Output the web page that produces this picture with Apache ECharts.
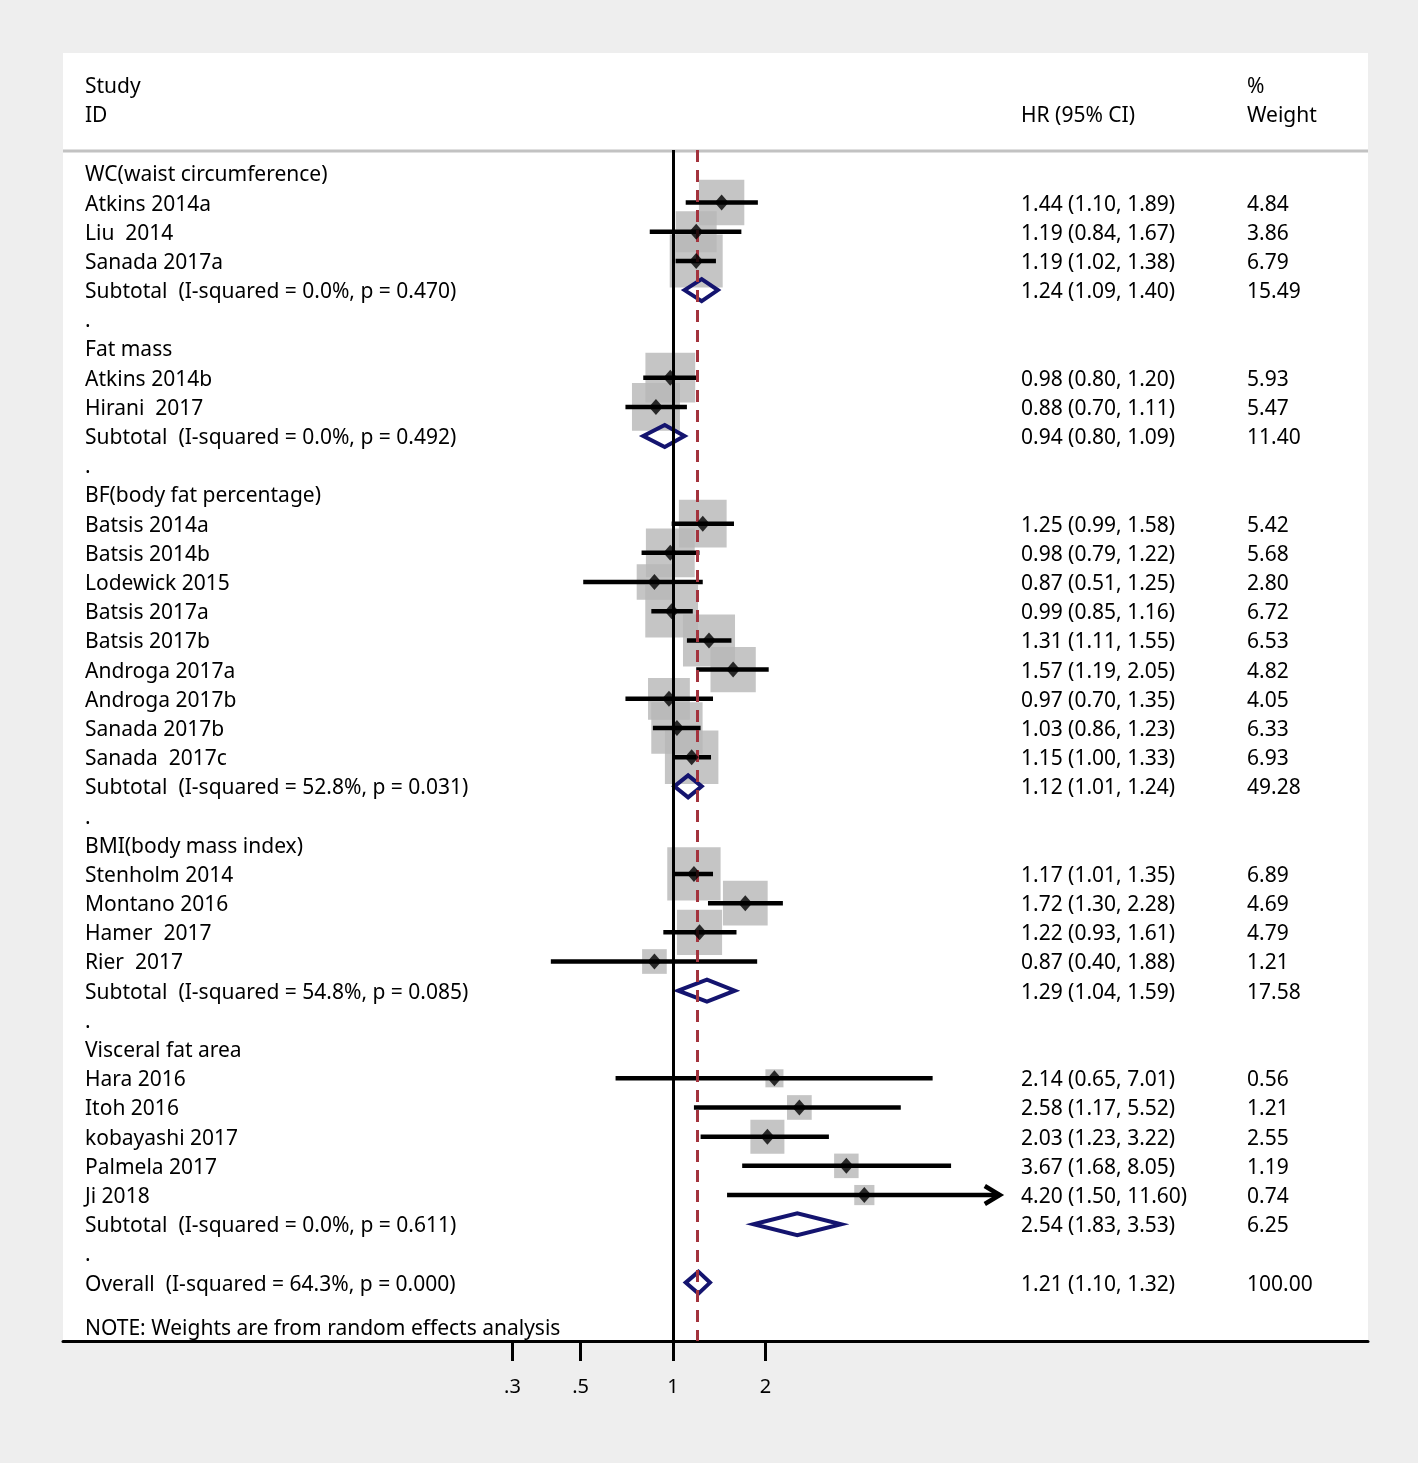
<!DOCTYPE html>
<html><head><meta charset="utf-8">
<script src="https://cdn.jsdelivr.net/npm/echarts@6/dist/echarts.min.js"></script>
<style>html,body{margin:0;padding:0;background:#eeeeee}#c{width:1418px;height:1463px}</style>
</head><body><div id="c"></div>
<script>
// ---------------- DATA ----------------
const studyLabels = [
  'WC(waist circumference)',
  'Atkins 2014a', 'Liu  2014', 'Sanada 2017a',
  'Subtotal  (I-squared = 0.0%, p = 0.470)', '.',
  'Fat mass',
  'Atkins 2014b', 'Hirani  2017',
  'Subtotal  (I-squared = 0.0%, p = 0.492)', '.',
  'BF(body fat percentage)',
  'Batsis 2014a', 'Batsis 2014b', 'Lodewick 2015', 'Batsis 2017a', 'Batsis 2017b',
  'Androga 2017a', 'Androga 2017b', 'Sanada 2017b', 'Sanada  2017c',
  'Subtotal  (I-squared = 52.8%, p = 0.031)', '.',
  'BMI(body mass index)',
  'Stenholm 2014', 'Montano 2016', 'Hamer  2017', 'Rier  2017',
  'Subtotal  (I-squared = 54.8%, p = 0.085)', '.',
  'Visceral fat area',
  'Hara 2016', 'Itoh 2016', 'kobayashi 2017', 'Palmela 2017', 'Ji 2018',
  'Subtotal  (I-squared = 0.0%, p = 0.611)', '.',
  'Overall  (I-squared = 64.3%, p = 0.000)'
];
// g = group header, s = study, t = subtotal, b = blank, o = overall
const rowKind = [
  'g','s','s','s','t','b',
  'g','s','s','t','b',
  'g','s','s','s','s','s','s','s','s','s','t','b',
  'g','s','s','s','s','t','b',
  'g','s','s','s','s','s','t','b',
  'o'
];
const hr = [
  null, 1.44, 1.19, 1.19, 1.24, null,
  null, 0.98, 0.88, 0.94, null,
  null, 1.25, 0.98, 0.87, 0.99, 1.31, 1.57, 0.97, 1.03, 1.15, 1.12, null,
  null, 1.17, 1.72, 1.22, 0.87, 1.29, null,
  null, 2.14, 2.58, 2.03, 3.67, 4.20, 2.54, null,
  1.21
];
const ciLow = [
  null, 1.10, 0.84, 1.02, 1.09, null,
  null, 0.80, 0.70, 0.80, null,
  null, 0.99, 0.79, 0.51, 0.85, 1.11, 1.19, 0.70, 0.86, 1.00, 1.01, null,
  null, 1.01, 1.30, 0.93, 0.40, 1.04, null,
  null, 0.65, 1.17, 1.23, 1.68, 1.50, 1.83, null,
  1.10
];
const ciHigh = [
  null, 1.89, 1.67, 1.38, 1.40, null,
  null, 1.20, 1.11, 1.09, null,
  null, 1.58, 1.22, 1.25, 1.16, 1.55, 2.05, 1.35, 1.23, 1.33, 1.24, null,
  null, 1.35, 2.28, 1.61, 1.88, 1.59, null,
  null, 7.01, 5.52, 3.22, 8.05, 11.60, 3.53, null,
  1.32
];
const weightPct = [
  null, 4.84, 3.86, 6.79, 15.49, null,
  null, 5.93, 5.47, 11.40, null,
  null, 5.42, 5.68, 2.80, 6.72, 6.53, 4.82, 4.05, 6.33, 6.93, 49.28, null,
  null, 6.89, 4.69, 4.79, 1.21, 17.58, null,
  null, 0.56, 1.21, 2.55, 1.19, 0.74, 6.25, null,
  100.00
];
const tickValues = [0.3, 0.5, 1, 2];
const tickLabels = ['.3', '.5', '1', '2'];
const overallHR = 1.21;
const nullValue = 1;
const arrowLimit = 10;   // CIs reaching past this are drawn with an arrow
const noteText = 'NOTE: Weights are from random effects analysis';

// ---------------- LAYOUT ----------------
const FONT = '"Noto Sans", "DejaVu Sans", sans-serif';
const FS = 21;
const TEXT_DY = 2;
const panel = {x: 63, y: 53, w: 1305, h: 1288};
const colName = 85, colHR = 1021, colW = 1247;
const pxPerDecade = 307;
const xMin = -(673 - 63) / pxPerDecade;
const xMax = (1368 - 673) / pxPerDecade;
const lg = v => Math.log10(v);

const boxData = [], pointData = [], ciData = [], diamondData = [];
rowKind.forEach((k, i) => {
  if (k === 's') {
    boxData.push([lg(hr[i]), i, weightPct[i]]);
    pointData.push([lg(hr[i]), i]);
    ciData.push([lg(ciLow[i]), lg(ciHigh[i]), i, ciHigh[i] > arrowLimit ? 1 : 0]);
  } else if (k === 't' || k === 'o') {
    diamondData.push([lg(ciLow[i]), lg(hr[i]), lg(ciHigh[i]), i]);
  }
});

const chart = echarts.init(document.getElementById('c'), null, {renderer: 'canvas'});
const option = {
  backgroundColor: '#eeeeee',
  animation: false,
  grid: {left: 63, right: 50, top: 150, bottom: 122},
  xAxis: {
    type: 'value', min: xMin, max: xMax,
    splitLine: {show: false},
    axisLine: {onZero: false, lineStyle: {color: '#000', width: 3}},
    axisTick: {customValues: tickValues.map(lg), length: 20, lineStyle: {color: '#000', width: 3}},
    axisLabel: {
      customValues: tickValues.map(lg),
      formatter: v => { const j = tickValues.findIndex(t => Math.abs(lg(t) - v) < 1e-6); return j >= 0 ? tickLabels[j] : ''; },
      fontSize: 20, color: '#000', fontFamily: FONT, margin: 36
    }
  },
  yAxis: {type: 'value', min: -0.8, max: 40, inverse: true, show: false},
  graphic: [],
  series: [
    {
      type: 'line', data: [], z: 1, silent: true,
      markLine: {
        silent: true, symbol: 'none', label: {show: false},
        data: [
          {xAxis: lg(nullValue), lineStyle: {color: '#000', width: 3, type: 'solid'}},
          {xAxis: lg(overallHR), lineStyle: {color: '#a3333d', width: 3, type: [12, 8]}}
        ]
      }
    },
    {
      type: 'scatter', data: boxData, z: 3, silent: true, symbol: 'rect',
      symbolSize: v => 18.8 * Math.sqrt(v[2]) + 4,
      itemStyle: {color: '#b6b6b6'}
    },
    {
      type: 'custom', data: ciData, z: 4, silent: true,
      renderItem: (params, api) => {
        const p1 = api.coord([api.value(0), api.value(2)]);
        const p2 = api.coord([api.value(1), api.value(2)]);
        const children = [{
          type: 'line', shape: {x1: p1[0], y1: p1[1], x2: p2[0], y2: p2[1]},
          style: {stroke: '#000', lineWidth: 4.5}
        }];
        if (api.value(3)) {
          children.push({
            type: 'polyline',
            shape: {points: [[p2[0] - 15, p2[1] - 9], [p2[0], p2[1]], [p2[0] - 15, p2[1] + 9]]},
            style: {stroke: '#000', fill: 'none', lineWidth: 4.5, lineJoin: 'miter'}
          });
        }
        return {type: 'group', children};
      }
    },
    {
      type: 'scatter', data: pointData, z: 5, silent: true, symbol: 'diamond',
      symbolSize: [14, 16], itemStyle: {color: '#000'}
    },
    {
      type: 'custom', data: diamondData, z: 4, silent: true,
      renderItem: (params, api) => {
        const r = api.value(3);
        const a = api.coord([api.value(0), r]);
        const m = api.coord([api.value(1), r]);
        const b = api.coord([api.value(2), r]);
        const h = 11;
        return {
          type: 'polygon',
          shape: {points: [[a[0], a[1]], [m[0], m[1] - h], [b[0], b[1]], [m[0], m[1] + h]]},
          style: {stroke: '#14146f', fill: 'none', lineWidth: 4, lineJoin: 'miter'}
        };
      }
    }
  ]
};
chart.setOption(option);

// text columns, positioned on the rows through the y scale
const rowY = i => chart.convertToPixel({gridIndex: 0}, [0, i])[1];
const txt = (s, x, y) => ({
  type: 'text', silent: true, z: 10,
  style: {text: s, x: x, y: y + TEXT_DY, fill: '#000', font: FS + 'px ' + FONT, verticalAlign: 'middle', align: 'left'}
});
const g = [
  {type: 'rect', z: -10, silent: true, shape: {x: panel.x, y: panel.y, width: panel.w, height: panel.h}, style: {fill: '#ffffff'}},
  {type: 'line', z: 5, silent: true, shape: {x1: panel.x, y1: 151, x2: panel.x + panel.w, y2: 151}, style: {stroke: '#c2c2c2', lineWidth: 3}},
  txt('Study', colName, 85), txt('ID', colName, 114),
  txt('HR (95% CI)', colHR, 114),
  txt('%', colW, 85), txt('Weight', colW, 114),
  txt(noteText, colName, 1327)
];
studyLabels.forEach((s, i) => {
  const y = rowY(i);
  g.push(txt(s, colName, y));
  if (hr[i] != null) {
    g.push(txt(hr[i].toFixed(2) + ' (' + ciLow[i].toFixed(2) + ', ' + ciHigh[i].toFixed(2) + ')', colHR, y));
    g.push(txt(weightPct[i].toFixed(2), colW, y));
  }
});
chart.setOption({graphic: g});
</script>
</body></html>
